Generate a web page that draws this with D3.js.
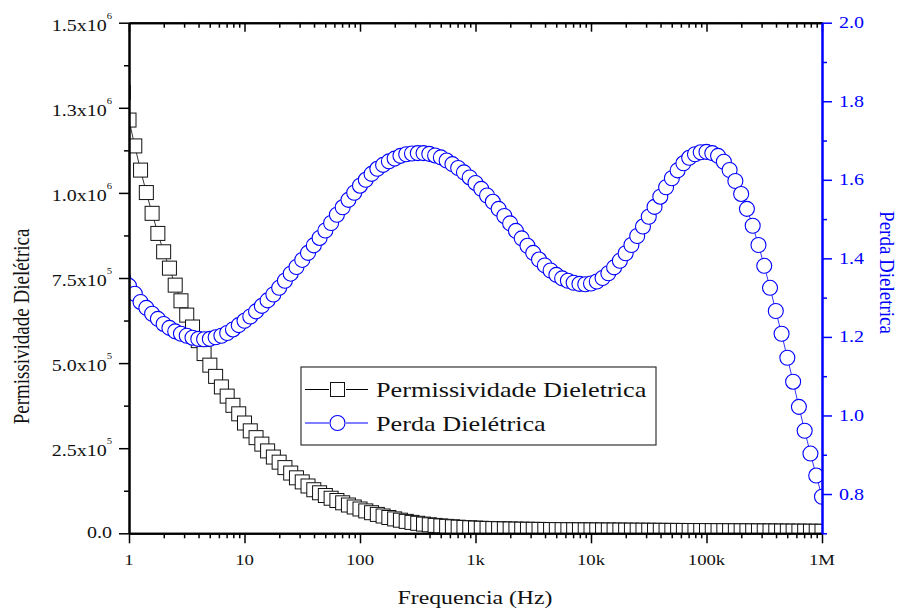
<!DOCTYPE html>
<html>
<head>
<meta charset="utf-8">
<script src="https://cdn.jsdelivr.net/npm/d3@7"></script>
<style>
    body { margin: 0; background: #fff; }
    svg { display: block; }
    text { font-family: "Liberation Serif", "Times New Roman", serif; }
</style>
</head>
<body>
<div id="chart"></div>
<script>
// frequency grid: 20 points per decade (mantissas) plus first/last point
var mantissas = [1, 1.122, 1.259, 1.413, 1.585, 1.778, 1.995, 2.239, 2.512, 2.818,
                 3.162, 3.548, 3.981, 4.467, 5.012, 5.623, 6.310, 7.079, 7.943, 8.913];
var decades = [1, 10, 100, 1e3, 1e4, 1e5];
var frequency = [0.891]
    .concat(decades.flatMap(d => mantissas.map(m => +(d * m).toPrecision(4))))
    .concat([1e6]);

// Permissividade Dieletrica (left axis)
var permittivity = [
    1295000, 1214000, 1138000, 1067000, 1001000, 940000, 881000, 827000, 779000, 729000,
    683000, 641000, 606000, 566000, 528000, 494000, 461000, 430000, 403000, 376000,
    351000, 324000, 301000, 281000, 262000, 242000, 224000, 209000, 193000, 177000,
    163000, 151000, 139000, 128000, 119000, 111000, 103000, 96400, 89600, 83100,
    77300, 71400, 65800, 60500, 55500, 50800, 46400, 42300, 38500, 35000,
    32000, 29400, 27000, 25000, 23200, 21700, 20300, 19100, 17900, 17000,
    16200, 15300, 14700, 14200, 13800, 13400, 12900, 12600, 12300, 12000,
    11800, 11600, 11400, 11200, 11000, 10800, 10600, 10500, 10300, 10200,
    10000, 9900, 9800, 9700, 9600, 9500, 9400, 9300, 9200, 9100,
    9000, 8900, 8800, 8700, 8600, 8500, 8400, 8300, 8200, 8100,
    8000, 7900, 7800, 7700, 7600, 7500, 7400, 7300, 7200, 7100,
    7000, 6900, 6800, 6700, 6600, 6500, 6400, 6300, 6200, 6100,
    6000, 5900
];

// Perda Dieletrica (right axis)
var loss = [
    1.350, 1.330, 1.310, 1.289, 1.274, 1.259, 1.246, 1.233, 1.223, 1.214,
    1.208, 1.203, 1.198, 1.195, 1.194, 1.195, 1.199, 1.203, 1.210, 1.219,
    1.230, 1.241, 1.252, 1.265, 1.279, 1.293, 1.308, 1.325, 1.343, 1.361,
    1.378, 1.396, 1.414, 1.433, 1.452, 1.471, 1.490, 1.511, 1.530, 1.549,
    1.567, 1.585, 1.600, 1.615, 1.628, 1.638, 1.647, 1.654, 1.661, 1.665,
    1.667, 1.668, 1.668, 1.666, 1.662, 1.657, 1.649, 1.640, 1.630, 1.619,
    1.606, 1.592, 1.577, 1.560, 1.544, 1.526, 1.508, 1.489, 1.470, 1.451,
    1.432, 1.414, 1.397, 1.382, 1.369, 1.358, 1.349, 1.343, 1.338, 1.335,
    1.334, 1.336, 1.341, 1.350, 1.362, 1.377, 1.394, 1.413, 1.434, 1.457,
    1.481, 1.506, 1.531, 1.557, 1.581, 1.604, 1.624, 1.642, 1.656, 1.665,
    1.670, 1.671, 1.668, 1.661, 1.646, 1.625, 1.597, 1.564, 1.526, 1.483,
    1.434, 1.381, 1.325, 1.266, 1.208, 1.147, 1.086, 1.022, 0.961, 0.903,
    0.847, 0.793
];

var xTicks = [1, 10, 100, 1e3, 1e4, 1e5, 1e6];
var xTickLabels = ['1', '10', '100', '1k', '10k', '100k', '1M'];
var xMinorMult = [2, 3, 4, 5, 6, 7, 8, 9];

var leftTicks = [0, 2.5e5, 5e5, 7.5e5, 1e6, 1.25e6, 1.5e6];
var leftTickMant = ['0.0', '2.5', '5.0', '7.5', '1.0', '1.3', '1.5'];
var leftTickExp = ['', '5', '5', '5', '6', '6', '6'];
var leftMinor = [1.25e5, 3.75e5, 6.25e5, 8.75e5, 1.125e6, 1.375e6];

var rightTicks = [0.8, 1.0, 1.2, 1.4, 1.6, 1.8, 2.0];
var rightTickLabels = ['0.8', '1.0', '1.2', '1.4', '1.6', '1.8', '2.0'];
var rightMinor = [0.7, 0.9, 1.1, 1.3, 1.5, 1.7, 1.9];

var seriesNames = ['Permissividade Dieletrica', 'Perda Dielétrica'];

var W = 899, H = 609;
var margin = {left: 129, top: 22.7};
var width = 693, height = 510.6;
var sx = 1.25;   // glyphs in the reference are stretched horizontally
var blue = '#0000ff';

var x = d3.scaleLog().domain([1, 1e6]).range([0, width]);
var yL = d3.scaleLinear().domain([0, 1.5e6]).range([height, 0]);
var yR = d3.scaleLinear().domain([0.7, 2.0]).range([height, 0]);

var xMinor = decades.flatMap(d => xMinorMult.map(m => d * m));

var svg = d3.select('#chart')
    .append('svg')
    .attr('width', W)
    .attr('height', H)
    .append('g')
    .attr('transform', 'translate(' + margin.left + ',' + margin.top + ')');

function label(parent, tx, ty, str, size, anchor, color, rot, stretch) {
    var s = stretch || sx;
    return parent.append('text')
        .attr('transform', 'translate(' + tx + ',' + ty + ') scale(' + s + ',1)' + (rot ? ' rotate(' + rot + ')' : ''))
        .attr('text-anchor', anchor)
        .attr('fill', color)
        .style('font-size', size + 'px')
        .text(str);
}

svg.append('clipPath')
    .attr('id', 'clip')
    .append('rect')
    .attr('width', width)
    .attr('height', height);

var plot = svg.append('g').attr('clip-path', 'url(#clip)');

// permittivity line + squares
plot.append('path')
    .datum(frequency.map((f, i) => [f, permittivity[i]]))
    .attr('d', d3.line().x(d => x(d[0])).y(d => yL(d[1])))
    .attr('fill', 'none')
    .attr('stroke', '#000')
    .attr('stroke-width', 0.8);

plot.selectAll('.sq')
    .data(frequency.map((f, i) => [f, permittivity[i]]))
    .enter()
    .append('rect')
    .attr('class', 'sq')
    .attr('x', d => x(d[0]) - 7)
    .attr('y', d => yL(d[1]) - 7)
    .attr('width', 14)
    .attr('height', 14)
    .attr('fill', '#fff')
    .attr('stroke', '#111')
    .attr('stroke-width', 1);

// loss line + circles
plot.append('path')
    .datum(frequency.map((f, i) => [f, loss[i]]))
    .attr('d', d3.line().x(d => x(d[0])).y(d => yR(d[1])))
    .attr('fill', 'none')
    .attr('stroke', blue)
    .attr('stroke-width', 0.8);

plot.selectAll('.ci')
    .data(frequency.map((f, i) => [f, loss[i]]))
    .enter()
    .append('circle')
    .attr('class', 'ci')
    .attr('cx', d => x(d[0]))
    .attr('cy', d => yR(d[1]))
    .attr('r', 7.5)
    .attr('fill', '#fff')
    .attr('stroke', blue)
    .attr('stroke-width', 1.1);

function styleAxis(g, color, domainWidth) {
    g.select('.domain').attr('stroke', color).attr('stroke-width', domainWidth);
    g.selectAll('.tick line').attr('stroke', color).attr('stroke-width', 1.5);
    g.selectAll('.tick text').remove();
}

// bottom axis
svg.append('g')
    .attr('transform', 'translate(0,' + height + ')')
    .call(d3.axisBottom(x).tickValues(xMinor).tickSize(5).tickSizeOuter(0).tickFormat(''))
    .call(g => styleAxis(g, '#000', 2));
svg.append('g')
    .attr('transform', 'translate(0,' + height + ')')
    .call(d3.axisBottom(x).tickValues(xTicks).tickSize(10).tickSizeOuter(0).tickFormat(''))
    .call(g => styleAxis(g, '#000', 2));

// top axis (ticks inward)
svg.append('g')
    .call(d3.axisBottom(x).tickValues(xMinor).tickSize(5).tickSizeOuter(0).tickFormat(''))
    .call(g => styleAxis(g, '#000', 2));
svg.append('g')
    .call(d3.axisBottom(x).tickValues(xTicks).tickSize(9).tickSizeOuter(0).tickFormat(''))
    .call(g => styleAxis(g, '#000', 2));

// left axis
svg.append('g')
    .call(d3.axisLeft(yL).tickValues(leftMinor).tickSize(5).tickSizeOuter(0).tickFormat(''))
    .call(g => styleAxis(g, '#000', 2));
svg.append('g')
    .call(d3.axisLeft(yL).tickValues(leftTicks).tickSize(10).tickSizeOuter(0).tickFormat(''))
    .call(g => styleAxis(g, '#000', 2));

// right axis
svg.append('g')
    .attr('transform', 'translate(' + width + ',0)')
    .call(d3.axisRight(yR).tickValues(rightMinor).tickSize(5).tickSizeOuter(0).tickFormat(''))
    .call(g => styleAxis(g, blue, 2));
svg.append('g')
    .attr('transform', 'translate(' + width + ',0)')
    .call(d3.axisRight(yR).tickValues(rightTicks).tickSize(10).tickSizeOuter(0).tickFormat(''))
    .call(g => styleAxis(g, blue, 2));

// tick labels
xTicks.forEach((v, i) => label(svg, x(v), height + 31.7, xTickLabels[i], 15, 'middle', '#111'));

leftTicks.forEach((v, i) => {
    var t = label(svg, -17, yL(v) + (leftTickExp[i] ? 8 : 4.5), leftTickMant[i] + (leftTickExp[i] ? 'x10' : ''), 16, 'end', '#111');
    if (leftTickExp[i]) {
        t.append('tspan')
            .attr('dy', -12)
            .style('font-size', '8.5px')
            .text(leftTickExp[i]);
    }
});

rightTicks.forEach((v, i) => label(svg, width + 17, yR(v) + 5.5, rightTickLabels[i], 16, 'start', blue));

// axis titles
label(svg, 475 - margin.left, 604 - margin.top, 'Frequencia (Hz)', 19, 'middle', '#111');
label(svg, 29 - margin.left, 326.5 - margin.top, 'Permissividade Dielétrica', 19, 'middle', '#111', -90);
label(svg, 880 - margin.left, 272.5 - margin.top, 'Perda Dieletrica', 19, 'middle', blue, 90, 1.08);

// legend
var lg = svg.append('g').attr('transform', 'translate(' + (301 - margin.left) + ',' + (367 - margin.top) + ')');
lg.append('rect')
    .attr('width', 355)
    .attr('height', 78)
    .attr('fill', '#fff')
    .attr('stroke', '#333')
    .attr('stroke-width', 1.2);

var rowsY = [22.5, 56];
var colors = ['#000', blue];
seriesNames.forEach((name, i) => {
    var row = lg.append('g').attr('transform', 'translate(0,' + rowsY[i] + ')');
    row.append('line').attr('x1', 4).attr('x2', 28).attr('stroke', colors[i]).attr('stroke-width', 1);
    row.append('line').attr('x1', 45).attr('x2', 67).attr('stroke', colors[i]).attr('stroke-width', 1);
    if (i === 0) {
        row.append('rect').attr('x', 29.5).attr('y', -7).attr('width', 14).attr('height', 14)
            .attr('fill', '#fff').attr('stroke', '#111').attr('stroke-width', 1);
    } else {
        row.append('circle').attr('cx', 36.5).attr('r', 7.5)
            .attr('fill', '#fff').attr('stroke', blue).attr('stroke-width', 1.1);
    }
    label(row, 75, 7.5, name, 21, 'start', '#111');
});
</script>
</body>
</html>
